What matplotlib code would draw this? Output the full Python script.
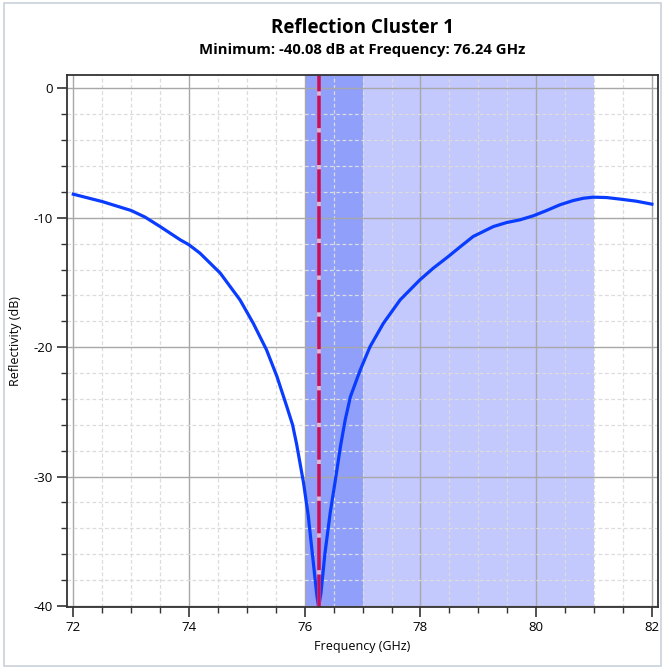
import numpy as np
import matplotlib.pyplot as plt
from matplotlib.patches import Rectangle
from matplotlib.ticker import MultipleLocator

plt.rcParams['font.family'] = ['Open Sans', 'DejaVu Sans']
plt.rcParams['axes.unicode_minus'] = False

# curve
freq = [72.0, 72.5, 73.0, 73.24, 73.5, 73.85, 74.0, 74.19, 74.54, 74.88,
        75.11, 75.34, 75.52, 75.69, 75.79, 75.86, 75.98, 76.06, 76.14, 76.21,
        76.24, 76.28, 76.35, 76.44, 76.53, 76.62, 76.70, 76.79, 76.96, 77.13,
        77.36, 77.65, 77.99, 78.22, 78.48, 78.68, 78.91, 79.26, 79.49, 79.72,
        79.95, 80.18, 80.41, 80.64, 80.82, 80.99, 81.22, 81.45, 81.73, 82.0]
refl = [-8.18, -8.75, -9.44, -9.95, -10.68, -11.71, -12.09, -12.74, -14.28, -16.34,
        -18.15, -20.21, -22.27, -24.59, -26.0, -27.5, -30.5, -33.0, -36.3, -39.2,
        -40.08, -39.0, -35.9, -32.8, -30.25, -27.6, -25.6, -23.82, -21.75, -19.95,
        -18.15, -16.34, -14.8, -13.9, -13.0, -12.27, -11.45, -10.68, -10.37, -10.16,
        -9.85, -9.44, -9.0, -8.67, -8.49, -8.41, -8.44, -8.56, -8.72, -8.95]

min_freq = 76.24
min_refl = -40.08
band_outer = (76.0, 81.0)
band_inner = (76.0, 77.0)

fig = plt.figure(figsize=(6.65, 6.69), dpi=100)
ax = fig.add_axes([0.1003, 0.0922, 0.8887, 0.7957])

# frame round the whole picture
fig.patches.append(Rectangle((0.006, 0.005), 0.988, 0.99, transform=fig.transFigure,
                             fill=False, edgecolor='#c9d1d9', lw=1.2))

ax.axvspan(*band_outer, color='#c3c8fd', lw=0, zorder=1)
ax.axvspan(*band_inner, color='#8f9ffa', lw=0, zorder=1.1)

ax.plot(freq, refl, color='#0a3cff', lw=2.3, zorder=3, solid_joinstyle='round')

ax.axvline(min_freq, color='#e8b4d0', lw=2.6, zorder=4)
ax.axvline(min_freq, color='#c8105a', lw=2.6, dashes=(9, 1.2), zorder=4)

ax.set_xlim(71.886, 82.1)
ax.set_ylim(-40.1, 1.03)
ax.xaxis.set_major_locator(MultipleLocator(2))
ax.xaxis.set_minor_locator(MultipleLocator(0.5))
ax.yaxis.set_major_locator(MultipleLocator(10))
ax.yaxis.set_minor_locator(MultipleLocator(2))

ax.grid(which='major', color='#a8a8a8', lw=1.0, zorder=2)
ax.grid(which='minor', color='#dcdcdc', lw=0.9, ls=(0, (3, 2)), zorder=2)
ax.set_axisbelow(False)
for gl in ax.get_xgridlines() + ax.get_ygridlines():
    gl.set_zorder(2)

for s in ax.spines.values():
    s.set_color('#333333')
    s.set_linewidth(1.3)
    s.set_zorder(5)

ax.tick_params(which='major', length=7, width=1.2, color='#333333', labelsize=9.5, pad=3)
ax.tick_params(which='minor', length=4, width=1.0, color='#333333')

ax.set_xlabel('Frequency (GHz)', fontsize=9, labelpad=4)
ax.set_ylabel('Reflectivity (dB)', fontsize=9, labelpad=8)

fig.text(0.5445, 0.958, 'Reflection Cluster 1', ha='center', va='center',
         fontsize=13.5, fontweight='bold')
fig.text(0.5445, 0.926, f'Minimum: {min_refl:.2f} dB at Frequency: {min_freq:.2f} GHz',
         ha='center', va='center', fontsize=10.7, fontweight='bold')

fig.savefig('out.png', dpi=100)
